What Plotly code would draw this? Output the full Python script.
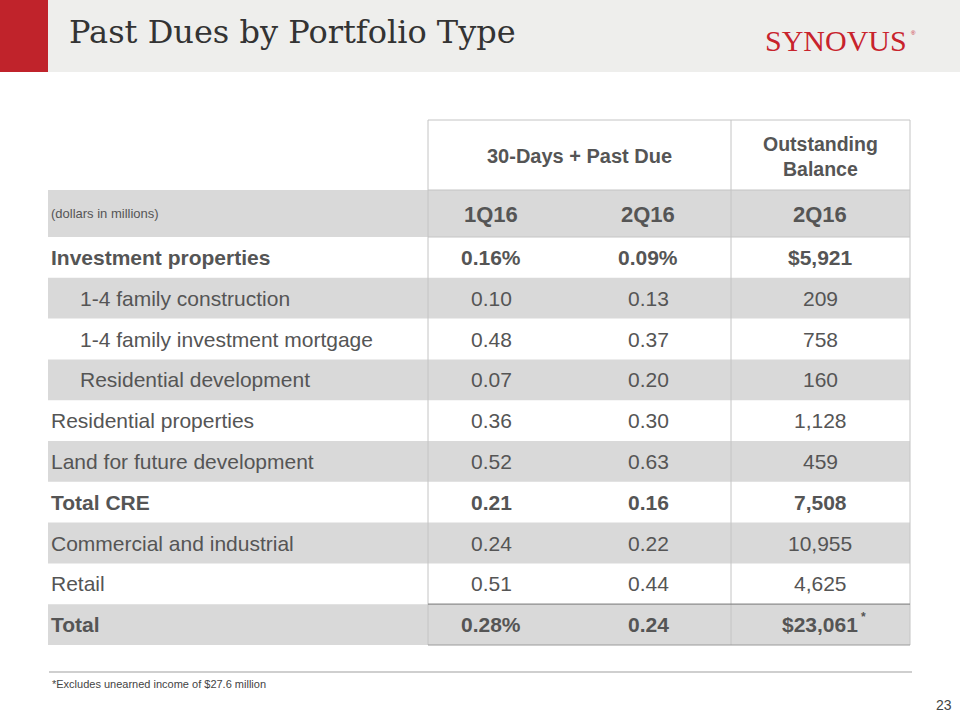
import plotly.graph_objects as go

# ---------------- data ----------------
row_labels = [
    "Investment properties",
    "1-4 family construction",
    "1-4 family investment mortgage",
    "Residential development",
    "Residential properties",
    "Land for future development",
    "Total CRE",
    "Commercial and industrial",
    "Retail",
    "Total",
]
row_indent = [0, 1, 1, 1, 0, 0, 0, 0, 0, 0]
row_bold = [1, 0, 0, 0, 0, 0, 1, 0, 0, 1]
past_due_1q16 = [0.16, 0.10, 0.48, 0.07, 0.36, 0.52, 0.21, 0.24, 0.51, 0.28]
past_due_2q16 = [0.09, 0.13, 0.37, 0.20, 0.30, 0.63, 0.16, 0.22, 0.44, 0.24]
balance_2q16 = [5921, 209, 758, 160, 1128, 459, 7508, 10955, 4625, 23061]
pct_1q16 = [1, 0, 0, 0, 0, 0, 0, 0, 0, 1]
pct_2q16 = [1, 0, 0, 0, 0, 0, 0, 0, 0, 0]
dollar_bal = [1, 0, 0, 0, 0, 0, 0, 0, 0, 1]
period_labels = ["1Q16", "2Q16", "2Q16"]
group_headers = ["30-Days + Past Due", "Outstanding<br>Balance"]
title = "Past Dues by Portfolio Type"
footnote = "*Excludes unearned income of $27.6 million"
page_number = "23"

# ---------------- styling / geometry ----------------
TXT = "#555555"
GREY = "#d9d9d9"
BORDER = "#c4c4c4"
SANS = "Liberation Sans, Arial, sans-serif"
X_LEFT, X_T0, X_MID, X_RIGHT = 48, 428, 731, 910
COL_X = [491, 648, 820]
HDR_TOP, HDR_BOT, SUB_BOT = 120, 190, 237
ROW_H = 40.8
BODY = 21

fig = go.Figure()
shapes = []
ann = []


def text(x, y, s, size, bold=False, color=TXT, anchor="center", font=SANS):
    ann.append(dict(x=x, y=y, xref="x", yref="y", text=("<b>%s</b>" % s) if bold else s,
                    showarrow=False, xanchor=anchor, yanchor="middle",
                    font=dict(size=size, color=color, family=font)))


def rect(x0, y0, x1, y1, fill, line=None, lw=0):
    shapes.append(dict(type="rect", xref="x", yref="y", x0=x0, y0=y0, x1=x1, y1=y1,
                       fillcolor=fill, line=dict(width=lw, color=line or fill), layer="below"))


def hline(x0, x1, y, color, w=1):
    shapes.append(dict(type="line", xref="x", yref="y", x0=x0, x1=x1, y0=y, y1=y,
                       line=dict(color=color, width=w)))


def vline(x, y0, y1, color, w=1):
    shapes.append(dict(type="line", xref="x", yref="y", x0=x, x1=x, y0=y0, y1=y1,
                       line=dict(color=color, width=w)))


# header band
rect(0, 0, 48, 72, "#c0232b")
rect(48, 0, 960, 72, "#eeeeec")
text(67, 32, title, 32, color="#333333", anchor="left", font="DejaVu Serif, serif")
text(836, 40, "SYNOVUS", 30, color="#c8232c", font="Liberation Serif, Times New Roman, serif")
text(913, 33, "®", 6, color="#c8232c")

# sub-header band
rect(X_LEFT, HDR_BOT, X_RIGHT, SUB_BOT, GREY)
text(49, 213, "(dollars in millions)", 13, anchor="left")
for cx, lab in zip(COL_X, period_labels):
    text(cx, 214, lab, 22, bold=True)
text((X_T0 + X_MID) / 2 - 0.5, 156, group_headers[0], 20, bold=True)
text(COL_X[2], 156, group_headers[1], 19.5, bold=True)

n = len(row_labels)
for i in range(n):
    top = SUB_BOT + i * ROW_H
    cy = top + ROW_H / 2
    if i % 2 == 1:
        rect(X_LEFT, top, X_RIGHT, top + ROW_H, GREY)
    b = bool(row_bold[i])
    lab_x = 78 if row_indent[i] else 49
    text(lab_x, cy, row_labels[i], BODY, bold=b, anchor="left")
    v1 = "%.2f" % past_due_1q16[i] + ("%" if pct_1q16[i] else "")
    v2 = "%.2f" % past_due_2q16[i] + ("%" if pct_2q16[i] else "")
    v3 = ("$" if dollar_bal[i] else "") + "{:,}".format(balance_2q16[i])
    text(COL_X[0], cy, v1, BODY, bold=b)
    text(COL_X[1], cy, v2, BODY, bold=b)
    text(COL_X[2], cy, v3, BODY, bold=b)

total_top = SUB_BOT + (n - 1) * ROW_H
bottom = SUB_BOT + n * ROW_H
text(COL_X[2] + 43, total_top + 13, "*", 12, bold=True)

# table borders
hline(X_T0, X_RIGHT, HDR_TOP, BORDER)
hline(X_T0, X_RIGHT, HDR_BOT, BORDER)
hline(X_T0, X_RIGHT, SUB_BOT, BORDER)
vline(X_T0, HDR_TOP, bottom, BORDER)
vline(X_MID, HDR_TOP, bottom, BORDER)
vline(X_RIGHT, HDR_TOP, bottom, BORDER)
hline(X_T0, X_RIGHT, total_top, "#8a8a8a", 1.2)
hline(X_T0, X_RIGHT, bottom, "#9a9a9a", 1)

# footer
hline(49, 912, 672, "#cfcfcf", 2)
text(50, 684, footnote, 11, anchor="left", color="#444444")
text(944, 705, page_number, 14, color="#444444")

fig.update_layout(
    width=960, height=720, margin=dict(l=0, r=0, t=0, b=0),
    paper_bgcolor="white", plot_bgcolor="white",
    xaxis=dict(range=[0, 960], visible=False, fixedrange=True),
    yaxis=dict(range=[720, 0], visible=False, fixedrange=True),
    shapes=shapes, annotations=ann, showlegend=False,
)
fig.write_html("out.html", config={"displayModeBar": False},
               post_script="document.body.style.margin='0px';document.body.style.overflow='hidden';")
